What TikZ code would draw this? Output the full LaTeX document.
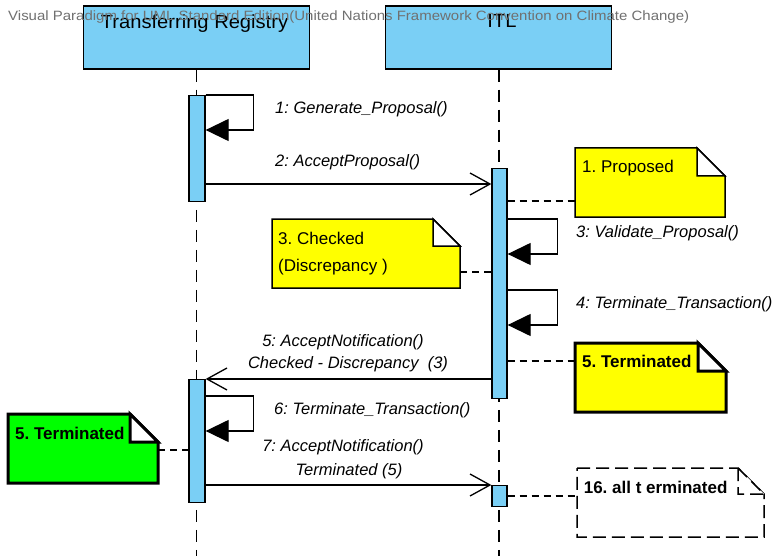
\documentclass[tikz,border=0pt]{standalone}
\usepackage{fontspec}
\setmainfont{Liberation Sans}
\usetikzlibrary{arrows.meta}
\definecolor{lifeblue}{RGB}{122,207,245}
\definecolor{noteyellow}{RGB}{255,255,0}
\definecolor{notegreen}{RGB}{0,255,0}
\definecolor{titlegray}{RGB}{112,112,112}
\frenchspacing

% note with a folded corner: style, x1, y1, x2, y2, fold size
\newcommand{\umlnote}[6]{%
  \draw[#1] (#2,#3) -- ({#4-#6},#3) -- (#4,{#3+#6}) -- (#4,#5) -- (#2,#5) -- cycle;
  \draw[#1, fill=white] ({#4-#6},#3) -- ({#4-#6},{#3+#6}) -- (#4,{#3+#6}) -- cycle;
}

\begin{document}
\begin{tikzpicture}[x=1pt,y=-1pt,
  header/.style={draw=black, fill=lifeblue, line width=1.5pt, minimum width=226pt, minimum height=63pt, inner sep=0pt},
  bar/.style={draw=black, fill=lifeblue, line width=1.3pt, minimum width=15pt, inner sep=0pt, anchor=north},
  lifeline/.style={line width=1.6pt, dash pattern=on 12pt off 8pt},
  msg/.style={line width=1.3pt, -{Straight Barb[length=20pt,width=22pt]}},
  selfmsg/.style={line width=1.3pt, -{Triangle[length=23pt,width=22pt]}},
  link/.style={line width=1.3pt, dash pattern=on 7pt off 5pt},
  lbl/.style={font=\fontsize{16.5}{20}\selectfont\itshape, inner sep=0pt},
  notetext/.style={font=\fontsize{17}{20}\selectfont, inner sep=0pt, anchor=base west},
  thinnote/.style={draw=black, fill=noteyellow, line width=1.5pt, line join=miter},
  thicknote/.style={draw=black, line width=3pt, line join=miter},
  dashnote/.style={draw=black, line width=1.5pt, dash pattern=on 13pt off 6pt},
]
\useasboundingbox (0,0) rectangle (781,556);
\fill[white] (0,0) rectangle (781,556);

% lifeline heads
\node[header] (tr) at (196.3,37.5) {};
\node[header] (itl) at (498.7,37.5) {};
\node[anchor=base, inner sep=0pt, font=\fontsize{19}{22}\selectfont] (trname) at (194.5,29) {\scalebox{1.06}[1]{Transferring Registry}};
\node[anchor=base, inner sep=0pt, font=\fontsize{19}{22}\selectfont] (itlname) at (502,28) {\scalebox{1.06}[1]{ITL}};

% lifelines
\draw[lifeline] (tr.south) -- (tr.south |- 0,556);
\draw[lifeline] (itl.south) -- (itl.south |- 0,556);

% activation bars
\node[bar, minimum width=16pt, minimum height=106pt] (tra) at (197,95) {};
\node[bar, minimum height=230pt] (itla) at (499.5,168) {};
\node[bar, minimum width=16pt, minimum height=123pt] (trb) at (197,379) {};
\node[bar, minimum height=21pt] (itlb) at (499.5,485) {};

% 1: self call
\draw[selfmsg] (tra.north east) -- ++(48,0) -- ++(0,35) -- ++(-48,0);
\node[lbl, anchor=base west] (l1) at (275,113.3) {1: Generate\_Proposal()};

% 2: call to ITL
\draw[msg] (tra.east |- 0,184) -- (itla.west |- 0,184);
\node[lbl, anchor=base west] (l2) at (275,167) {2: AcceptProposal()};

% 3 and 4: self calls on ITL
\draw[selfmsg] (itla.east |- 0,219) -- ++(50,0) -- ++(0,35) -- ++(-50,0);
\node[lbl, anchor=base west] (l3) at (576,237.3) {3: Validate\_Proposal()};
\draw[selfmsg] (itla.east |- 0,290) -- ++(50,0) -- ++(0,35) -- ++(-50,0);
\node[lbl, anchor=base west] (l4) at (576,308.3) {4: Terminate\_Transaction()};

% 5: notification back
\draw[msg] (itla.west |- 0,379) -- (trb.north east);
\node[lbl, anchor=base] (l5a) at (343,346) {5: AcceptNotification()};
\node[lbl, anchor=base] (l5b) at (348,368.7) {Checked - Discrepancy\ \ (3)};

% 6: self call
\draw[selfmsg] (trb.north east) ++(0,17) -- ++(48,0) -- ++(0,35) -- ++(-48,0);
\node[lbl, anchor=base west] (l6) at (274,414.3) {6: Terminate\_Transaction()};

% 7: final notification
\draw[msg] (trb.east |- itlb.north) -- (itlb.north west);
\node[lbl, anchor=base] (l7a) at (343,451) {7: AcceptNotification()};
\node[lbl, anchor=base] (l7b) at (349,475) {Terminated (5)};

% notes
\umlnote{thinnote}{575}{148}{725}{217}{28}
\node[notetext] (n1) at (582,173) {1. Proposed};
\coordinate (n1l) at (575,201);
\draw[link] (itla.east |- n1l) -- (n1l);

\umlnote{thinnote}{272}{219}{460}{288}{27}
\node[notetext] (n3a) at (278,244) {3. Checked};
\node[notetext] (n3b) at (278,271.7) {(Discrepancy )};
\coordinate (n3r) at (460,272);
\draw[link] (n3r) -- (itla.west |- n3r);

\umlnote{thicknote, fill=noteyellow}{575}{343}{726}{412}{28}
\node[notetext, font=\fontsize{17}{20}\selectfont\bfseries] (n5) at (582,367.7) {5. Terminated};
\coordinate (n5l) at (575,361);
\draw[link] (itla.east |- n5l) -- (n5l);

\umlnote{thicknote, fill=notegreen}{8}{414}{158}{483}{28}
\node[notetext, font=\fontsize{17}{20}\selectfont\bfseries] (ng) at (15,439) {5. Terminated};
\coordinate (ngr) at (158,450);
\draw[link] (ngr) -- (trb.west |- ngr);

\umlnote{dashnote, fill=white}{577}{468}{764}{537}{26}
\node[notetext, font=\fontsize{17}{20}\selectfont\bfseries] (n16) at (583.6,493) {16. all t erminated};
\coordinate (n16l) at (577,496);
\draw[link] (itlb.east |- n16l) -- (n16l);

% tool watermark
\node[anchor=base west, inner sep=0pt, text=titlegray, font=\fontsize{13.5}{16}\selectfont] (title) at (8,20.7) {\scalebox{1.11}[1]{Visual Paradigm for UML Standard Edition(United Nations Framework Convention on Climate Change)}};
\end{tikzpicture}
\end{document}
